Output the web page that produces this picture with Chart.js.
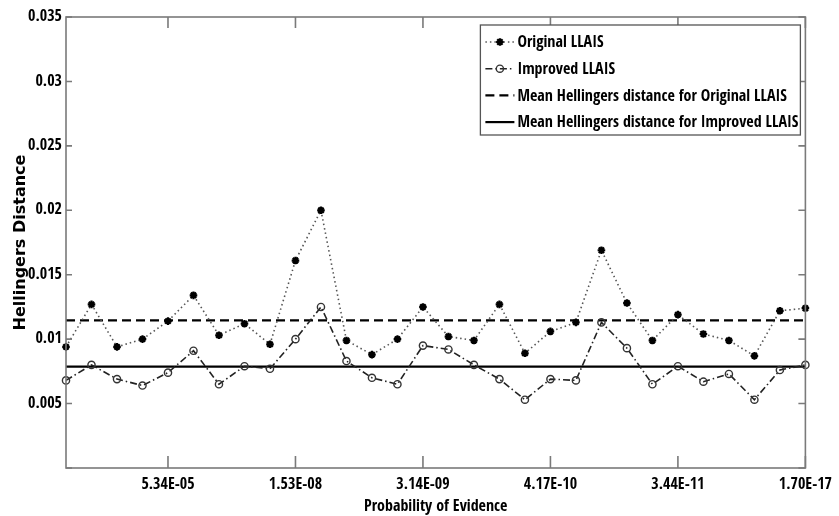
<!DOCTYPE html>
<html><head><meta charset="utf-8">
<script src="https://cdn.jsdelivr.net/npm/chart.js@4.4.1/dist/chart.umd.min.js"></script>
<style>html,body{margin:0;padding:0;background:#fff;}#wrap{width:839px;height:516px;}</style>
</head><body><div id="wrap"><canvas id="c" width="839" height="516"></canvas></div>
<script>
// ---- data ----
const evidenceIndex = [1,2,3,4,5,6,7,8,9,10,11,12,13,14,15,16,17,18,19,20,21,22,23,24,25,26,27,28,29,30];
const originalLLAIS = [0.0094,0.0127,0.0094,0.0100,0.0114,0.0134,0.0103,0.0112,0.0096,0.0161,
                       0.0200,0.0099,0.0088,0.0100,0.0125,0.0102,0.0099,0.0127,0.0089,0.0106,
                       0.0113,0.0169,0.0128,0.0099,0.0119,0.0104,0.0099,0.0087,0.0122,0.0124];
const improvedLLAIS = [0.0068,0.0080,0.0069,0.0064,0.0074,0.0091,0.0065,0.0079,0.0077,0.0100,
                       0.0125,0.0083,0.0070,0.0065,0.0095,0.0092,0.0080,0.0069,0.0053,0.0069,
                       0.0068,0.0113,0.0093,0.0065,0.0079,0.0067,0.0073,0.0053,0.0076,0.0080];
const meanOriginal = 0.01146;
const meanImproved = 0.00786;
const xTickPositions = [5,10,15,20,25,30];
const xTickLabels = ['5.34E-05','1.53E-08','3.14E-09','4.17E-10','3.44E-11','1.70E-17'];
const seriesLabels = ['Original LLAIS','Improved LLAIS',
  'Mean Hellingers distance for Original LLAIS','Mean Hellingers distance for Improved LLAIS'];

const NARROW = "'Open Sans Condensed','Roboto Condensed','Liberation Sans',Arial,sans-serif";

const toXY = (arr) => arr.map((v,i)=>({x: evidenceIndex[i], y: v}));
const flat = (v) => [{x: evidenceIndex[0], y: v}, {x: evidenceIndex[evidenceIndex.length-1], y: v}];

const framePlugin = {
  id: 'frame',
  afterDatasetsDraw(chart) {
    const {ctx, chartArea: a, scales: {x, y}} = chart;
    ctx.save();
    ctx.strokeStyle = '#7a7a7a';
    ctx.lineWidth = 1.6;
    ctx.setLineDash([]);
    ctx.strokeRect(a.left, a.top, a.right - a.left, a.bottom - a.top);
    ctx.beginPath();
    x.ticks.forEach(t => {
      const px = x.getPixelForValue(t.value);
      ctx.moveTo(px, a.bottom); ctx.lineTo(px, a.bottom - 12);
      ctx.moveTo(px, a.top); ctx.lineTo(px, a.top + 11);
    });
    y.ticks.forEach(t => {
      const py = y.getPixelForValue(t.value);
      ctx.moveTo(a.left, py); ctx.lineTo(a.left + 6, py);
      ctx.moveTo(a.right, py); ctx.lineTo(a.right - 7, py);
    });
    ctx.stroke();
    ctx.restore();
  }
};

const legendPlugin = {
  id: 'boxLegend',
  afterDraw(chart) {
    const ctx = chart.ctx, a = chart.chartArea;
    const w = 320, h = 110;
    const x0 = a.right - 5 - w, y0 = a.top + 8;
    ctx.save();
    ctx.fillStyle = '#fff';
    ctx.fillRect(x0, y0, w, h);
    ctx.strokeStyle = '#555';
    ctx.lineWidth = 1.3;
    ctx.strokeRect(x0, y0, w, h);
    chart.data.datasets.forEach((ds, i) => {
      const cy = y0 + 17 + i * 26.7;
      const lx0 = x0 + 5, lx1 = x0 + 34;
      ctx.setLineDash(ds.borderDash || []);
      ctx.strokeStyle = ds.borderColor;
      ctx.lineWidth = ds.borderWidth;
      ctx.beginPath(); ctx.moveTo(lx0, cy); ctx.lineTo(lx1, cy); ctx.stroke();
      ctx.setLineDash([]);
      if (ds.pointRadius > 0) {
        ctx.fillStyle = ds.pointBackgroundColor;
        ctx.strokeStyle = ds.pointBorderColor;
        ctx.lineWidth = ds.pointBorderWidth;
        Chart.helpers.drawPoint(ctx, {pointStyle: ds.pointStyle, radius: ds.pointRadius, rotation: 0, borderWidth: ds.pointBorderWidth}, (lx0 + lx1) / 2, cy);
      }
      ctx.fillStyle = '#000';
      ctx.font = 'bold 16px ' + NARROW;
      ctx.textBaseline = 'middle';
      ctx.textAlign = 'left';
      ctx.fillText(ds.label, x0 + 37, cy + 1);
    });
    ctx.restore();
  }
};

new Chart(document.getElementById('c'), {
  type: 'line',
  data: {
    datasets: [
      { label: seriesLabels[0], data: toXY(originalLLAIS), borderColor: '#555', borderWidth: 1.6,
        borderDash: [1.5, 3], pointStyle: 'star', pointRadius: 3.8, pointBorderWidth: 2.2,
        pointBorderColor: '#000', pointBackgroundColor: '#000', tension: 0, clip: false },
      { label: seriesLabels[1], data: toXY(improvedLLAIS), borderColor: '#222', borderWidth: 1.6,
        borderDash: [7, 3, 1.5, 3], pointStyle: 'circle', pointRadius: 3.6, pointBorderWidth: 1.4,
        pointBorderColor: '#333', pointBackgroundColor: 'rgba(0,0,0,0)', tension: 0, clip: false },
      { label: seriesLabels[2], data: flat(meanOriginal), borderColor: '#000', borderWidth: 2.2,
        borderDash: [9, 5], pointRadius: 0, clip: false },
      { label: seriesLabels[3], data: flat(meanImproved), borderColor: '#000', borderWidth: 2.2,
        pointRadius: 0, clip: false }
    ]
  },
  options: {
    responsive: false,
    animation: false,
    devicePixelRatio: 1,
    layout: { padding: { left: 0, right: 26, top: 17, bottom: 0 } },
    plugins: { legend: { display: false }, tooltip: { enabled: false } },
    scales: {
      x: {
        type: 'linear', min: evidenceIndex[0], max: evidenceIndex[evidenceIndex.length-1],
        afterBuildTicks: (s) => { s.ticks = xTickPositions.map(v => ({value: v})); },
        afterFit: (s) => { s.height = 48; },
        grid: { display: false, drawTicks: false },
        border: { display: false },
        ticks: {
          autoSkip: false, maxRotation: 0, padding: 7, color: '#000',
          font: { family: NARROW, size: 16, weight: 'bold' },
          callback: (v) => { const k = xTickPositions.indexOf(v); return k >= 0 ? xTickLabels[k] : ''; }
        },
        title: { display: true, text: 'Probability of Evidence', color: '#000',
          font: { family: NARROW, size: 16, weight: 'bold' }, padding: { top: 0, bottom: 0 } }
      },
      y: {
        min: 0, max: 0.035,
        afterFit: (s) => { s.width = 66; },
        grid: { display: false, drawTicks: false },
        border: { display: false },
        ticks: {
          stepSize: 0.005, padding: 4, color: '#000',
          font: { family: NARROW, size: 16, weight: 'bold' },
          callback: (v) => v === 0 ? '' : String(+v.toFixed(3))
        },
        title: { display: true, text: 'Hellingers Distance', color: '#000',
          font: { family: 'DejaVu Sans', size: 16, weight: 'bold' }, padding: { top: 11, bottom: 0 } }
      }
    }
  },
  plugins: [framePlugin, legendPlugin]
});
</script>
</body></html>
